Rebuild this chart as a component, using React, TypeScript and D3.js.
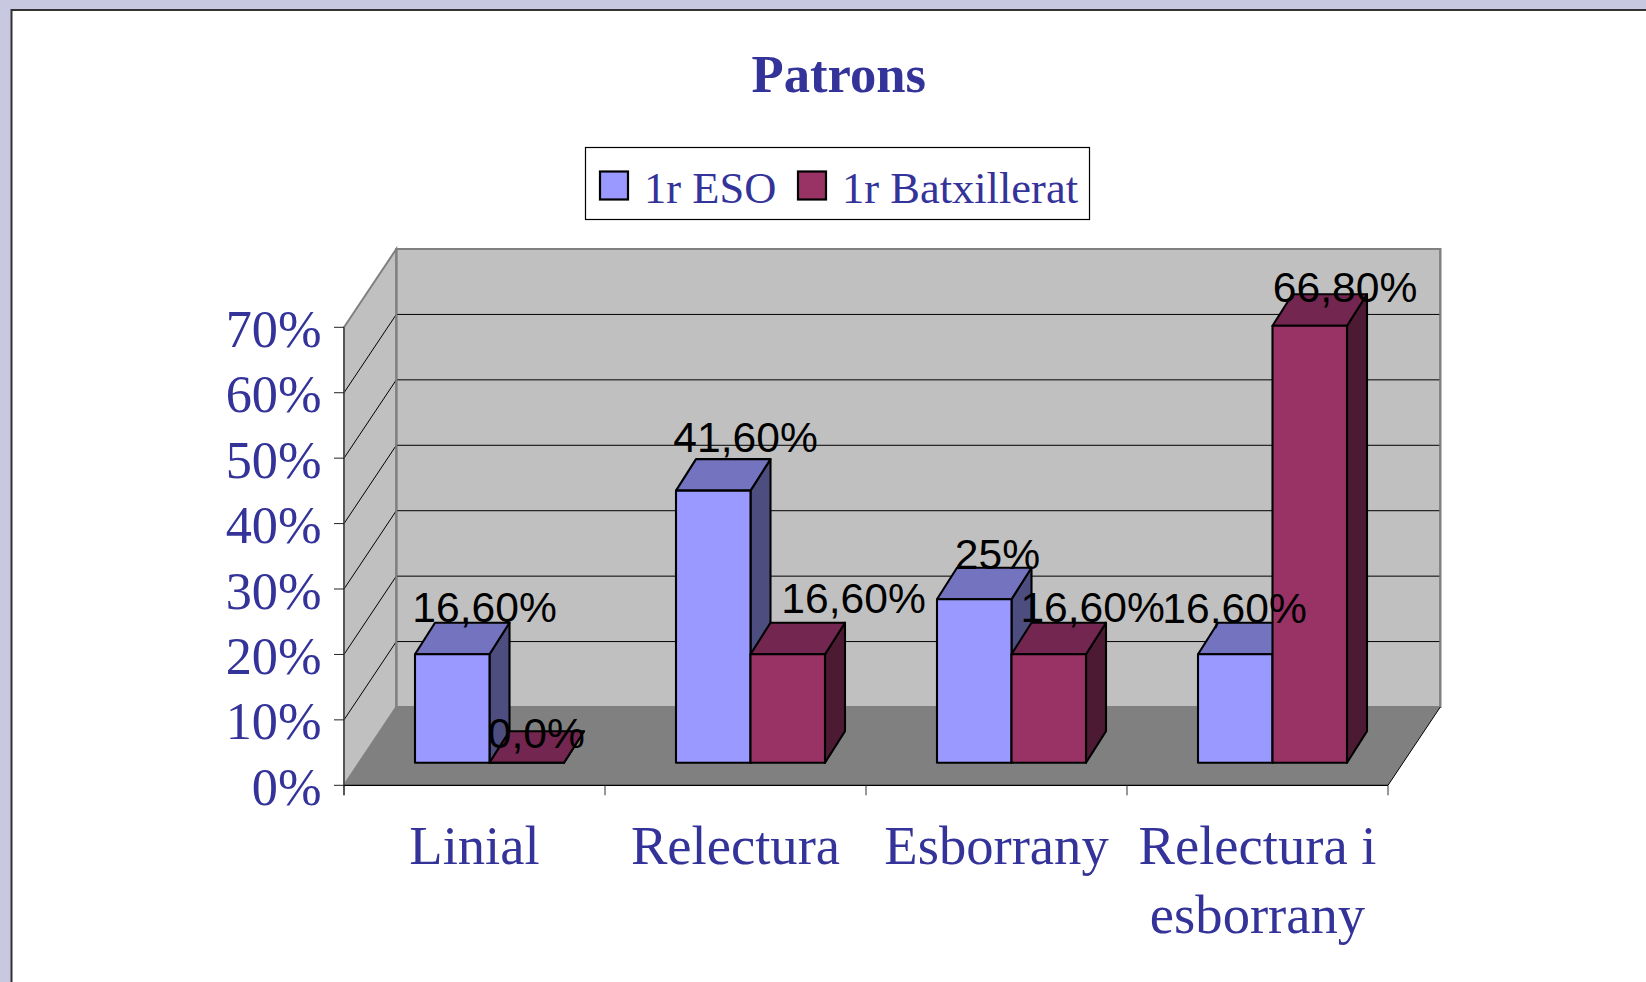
import React from "react";
import * as d3 from "d3";

const title = "Patrons";
const categories = ["Linial", "Relectura", "Esborrany", "Relectura i|esborrany"];
const seriesNames = ["1r ESO", "1r Batxillerat"];
const eso = [16.6, 41.6, 25, 16.6];
const batx = [0, 16.6, 16.6, 66.8];
const esoLabels = ["16,60%", "41,60%", "25%", "16,60%"];
const batxLabels = ["0,0%", "16,60%", "16,60%", "66,80%"];
const yTicks = [0, 10, 20, 30, 40, 50, 60, 70];

// Hand-placed label nudges, as the source chart had them
const esoNudge = [[-2.7, -31.9], [-2.7, -38.3], [17.8, -30.2], [-35.7, -31.5]];
const batxNudge = [[-1.7, -14.8], [30.8, -40.9], [8.9, -31.9], [0.3, -23.7]];

const NAVY = "#333399";
const SERIF = "'Liberation Serif', 'Times New Roman', serif";
const SANS = "'Liberation Sans', Arial, sans-serif";
const palettes = [
  { front: "#9999FF", top: "#7373BF", side: "#4D4D80" },
  { front: "#993366", top: "#732650", side: "#4D1A33" },
];

const y = d3.scaleLinear().domain([0, 70]).range([785.3, 327.3]);
const x = d3.scaleBand<string>().domain(categories).range([344, 1388]);
const DX = 52.3;
const DY = -78.3;
const barDX = 20;
const barDY = -31.5;
const baseShift = -22.5;
const insetX = 71;
const inner = d3.scaleBand<string>().domain(seriesNames).range([0, 149]);

const poly = (pts: [number, number][]) => {
  const l = d3.line();
  return l(pts) + "Z";
};

function Bar({ x0, w, v, colors }: { x0: number; w: number; v: number; colors: typeof palettes[0] }) {
  const bot = y(0) + baseShift;
  const top = y(v) + baseShift;
  const x1 = x0 + w;
  const common = { stroke: "#000", strokeWidth: 2.1, strokeLinejoin: "round" as const };
  return (
    <g>
      <path d={poly([[x1, top], [x1 + barDX, top + barDY], [x1 + barDX, bot + barDY], [x1, bot]])} fill={colors.side} {...common} />
      <path d={poly([[x0, top], [x0 + barDX, top + barDY], [x1 + barDX, top + barDY], [x1, top]])} fill={colors.top} {...common} />
      <path d={poly([[x0, top], [x1, top], [x1, bot], [x0, bot]])} fill={colors.front} {...common} />
    </g>
  );
}

export default function App() {
  const xLeft = x.range()[0];
  const xRight = x.range()[1];
  const y0 = y(0);
  const yMax = y(70);
  const series = [eso, batx];
  const labels = [esoLabels, batxLabels];
  const nudges = [esoNudge, batxNudge];
  const wallLine = { stroke: "#808080", strokeWidth: 2 };
  return (
    <svg width={1646} height={982} style={{ position: "fixed", left: 0, top: 0, background: "#fff" }}>
      {/* Slide frame */}
      <rect x={0} y={0} width={1646} height={9} fill="#C8C8E0" />
      <rect x={0} y={0} width={11} height={982} fill="#C8C8E0" />
      <line x1={11} y1={10} x2={1646} y2={10} stroke="#333" strokeWidth={2} />
      <line x1={11.5} y1={9} x2={11.5} y2={982} stroke="#333" strokeWidth={2} />

      <text x={838.8} y={92.3} textAnchor="middle" fontFamily={SERIF} fontWeight="bold" fontSize={52.6} fill={NAVY}>
        {title}
      </text>

      {/* Legend */}
      <rect x={585.5} y={147.5} width={504} height={72} fill="#fff" stroke="#000" strokeWidth={1.2} />
      {seriesNames.map((s, i) => {
        const sx = [600, 798][i];
        return (
          <g key={s}>
            <rect x={sx} y={171.5} width={28} height={28} fill={palettes[i].front} stroke="#000" strokeWidth={2.2} />
            <text x={sx + 44} y={202.7} fontFamily={SERIF} fontSize={44.5} fill={NAVY}>
              {s}
            </text>
          </g>
        );
      })}

      {/* Walls and floor */}
      <path d={poly([[xLeft + DX, yMax + DY], [xRight + DX, yMax + DY], [xRight + DX, y0 + DY], [xLeft + DX, y0 + DY]])} fill="#C0C0C0" {...wallLine} />
      <path d={poly([[xLeft, yMax], [xLeft + DX, yMax + DY], [xLeft + DX, y0 + DY], [xLeft, y0]])} fill="#C0C0C0" {...wallLine} />
      <path d={poly([[xLeft, y0], [xLeft + DX, y0 + DY], [xRight + DX, y0 + DY], [xRight, y0]])} fill="#808080" />

      {/* Gridlines */}
      {yTicks.filter((t) => t > 0 && t < 70).map((t) => (
        <g key={t} stroke="#000" strokeWidth={1}>
          <line x1={xLeft} y1={y(t)} x2={xLeft + DX} y2={y(t) + DY} />
          <line x1={xLeft + DX} y1={y(t) + DY} x2={xRight + DX} y2={y(t) + DY} />
        </g>
      ))}
      <path d={poly([[xLeft + DX, yMax + DY], [xRight + DX, yMax + DY], [xRight + DX, y0 + DY], [xLeft + DX, y0 + DY]])} fill="none" {...wallLine} />

      {/* Axes */}
      <line x1={xLeft} y1={yMax} x2={xLeft} y2={y0 + 10} stroke="#444" strokeWidth={1.4} />
      <line x1={xLeft} y1={y0} x2={xRight} y2={y0} stroke="#000" strokeWidth={1.2} />
      <line x1={xRight} y1={y0} x2={xRight + DX} y2={y0 + DY} stroke="#000" strokeWidth={1} />
      {yTicks.map((t) => (
        <g key={t}>
          <line x1={xLeft - 10} y1={y(t)} x2={xLeft} y2={y(t)} stroke="#222" strokeWidth={1} />
          <text x={321.5} y={y(t) + 19.5} textAnchor="end" fontFamily={SERIF} fontSize={52.3} fill={NAVY}>
            {t}%
          </text>
        </g>
      ))}
      {[...categories.map((c) => x(c)!), xRight].map((px) => (
        <line key={px} x1={px} y1={y0} x2={px} y2={y0 + 10} stroke="#333" strokeWidth={1} />
      ))}
      {categories.map((c) => (
        <text key={c} textAnchor="middle" fontFamily={SERIF} fontSize={54.6} fill={NAVY}>
          {c.split("|").map((line, j) => (
            <tspan key={line} x={x(c)! + x.bandwidth() / 2} y={863.6 + j * 69.6}>
              {line}
            </tspan>
          ))}
        </text>
      ))}

      {/* Bars */}
      {categories.map((c, i) =>
        seriesNames.map((s, k) => (
          <Bar key={c + s} x0={x(c)! + insetX + inner(s)!} w={inner.bandwidth()} v={series[k][i]} colors={palettes[k]} />
        ))
      )}

      {/* Data labels */}
      {categories.map((c, i) =>
        seriesNames.map((s, k) => (
          <text
            key={c + s}
            x={x(c)! + insetX + inner(s)! + nudges[k][i][0]}
            y={y(series[k][i]) + baseShift + nudges[k][i][1]}
            fontFamily={SANS}
            fontSize={42.6}
            fill="#000"
          >
            {labels[k][i]}
          </text>
        ))
      )}
    </svg>
  );
}
